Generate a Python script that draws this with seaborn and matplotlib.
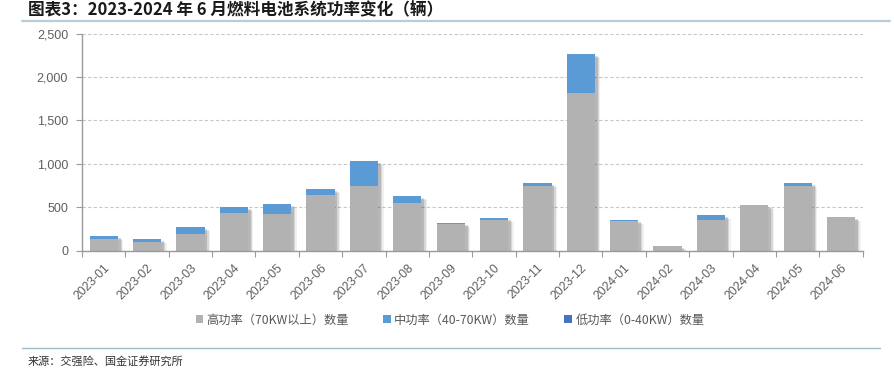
import numpy as np
import pandas as pd
import matplotlib
matplotlib.use("Agg")
import matplotlib.pyplot as plt
import matplotlib.patheffects as pe
from matplotlib.patches import Patch
from matplotlib.lines import Line2D
import seaborn as sns

months = ["2023-01", "2023-02", "2023-03", "2023-04", "2023-05", "2023-06",
          "2023-07", "2023-08", "2023-09", "2023-10", "2023-11", "2023-12",
          "2024-01", "2024-02", "2024-03", "2024-04", "2024-05", "2024-06"]
high = [135, 104, 193, 430, 426, 645, 745, 553, 307, 357, 745, 1813,
        346, 50, 354, 526, 750, 385]
mid = [31, 31, 84, 73, 115, 62, 288, 81, 12, 16, 38, 453,
       8, 0, 57, 0, 30, 0]
low = [0] * 18
yticks = [0, 500, 1000, 1500, 2000, 2500]
series_labels = ["高功率（70KW以上）数量", "中功率（40-70KW）数量", "低功率（0-40KW）数量"]
colors = ["#B2B2B2", "#5B9BD5", "#4472C4"]
title = "图表3：2023-2024 年 6 月燃料电池系统功率变化（辆）"
source = "来源：交强险、国金证券研究所"

sns.set_theme(style="white")
plt.rcParams['font.family'] = ['Liberation Sans', 'Noto Sans CJK SC', 'DejaVu Sans']

df = pd.DataFrame({"month": months, "high": high, "mid": mid, "low": low})
df["mid_top"] = df["high"] + df["mid"]
df["low_top"] = df["mid_top"] + df["low"]

fig = plt.figure(figsize=(8.94, 3.72), dpi=100)
ax = fig.add_axes([82 / 894, 1 - 250.7 / 372, (862.7 - 82) / 894, (250.7 - 33.7) / 372])

bar_kw = dict(width=0.65, saturation=1, errorbar=None, ax=ax, zorder=3,
              linewidth=0, edgecolor="none")
# back layer (total) with soft shadow
sns.barplot(data=df, x="month", y="low_top", color=colors[2], **bar_kw)
for p in ax.patches:
    p.set_path_effects([
        pe.SimplePatchShadow(offset=(4, -3), shadow_rgbFace="#000000", alpha=0.06),
        pe.SimplePatchShadow(offset=(3, -2.2), shadow_rgbFace="#000000", alpha=0.10),
        pe.SimplePatchShadow(offset=(2, -1.5), shadow_rgbFace="#000000", alpha=0.14),
        pe.Normal()])
sns.barplot(data=df, x="month", y="mid_top", color=colors[1], **bar_kw)
sns.barplot(data=df, x="month", y="high", color=colors[0], **bar_kw)

ax.set_xlim(-0.5, len(months) - 0.5)
ax.set_ylim(0, 2500)
ax.set_yticks(yticks)
ax.set_yticklabels([f"{v:,}" for v in yticks])
ax.set_xlabel("")
ax.set_ylabel("")

ax.set_xticks(np.arange(len(months)))
ax.set_xticklabels(months, rotation=45, ha="right", rotation_mode="anchor")
ax.set_xticks(np.arange(-0.5, len(months), 1), minor=True)
ax.tick_params(axis="x", which="major", length=0, pad=8, labelsize=8.8, labelcolor="#5f5f5f")
ax.tick_params(axis="x", which="minor", length=4, width=0.8, color="#9a9a9a", direction="out", bottom=True)
ax.tick_params(axis="y", which="major", length=4, width=0.8, color="#9a9a9a", direction="out",
               left=True, labelsize=9, labelcolor="#5f5f5f", pad=6)

ax.yaxis.grid(True, linestyle=(0, (3, 2)), color="#c8c8c8", linewidth=0.8, zorder=0)
ax.xaxis.grid(False)
ax.set_axisbelow(True)
for s in ["top", "right"]:
    ax.spines[s].set_visible(False)
for s in ["left", "bottom"]:
    ax.spines[s].set_color("#9a9a9a")
    ax.spines[s].set_linewidth(1.0)
    ax.spines[s].set_zorder(4)

handles = [Patch(facecolor=c, edgecolor="none") for c in colors]
fig.legend(handles, series_labels, loc="center", bbox_to_anchor=(450 / 894, 1 - 320 / 372),
           ncol=3, frameon=False, labelcolor="#595959",
           handlelength=0.6, handleheight=0.6, handletextpad=0.3, columnspacing=2.8,
           prop={"family": ["Noto Sans CJK SC", "Liberation Sans"], "size": 8.8})

fig.text(28 / 894, 1 - 10 / 372, title, ha="left", va="center", fontsize=12, fontweight="bold",
         fontstyle="italic", color="#1a1a1a", family=["Noto Sans CJK SC", "DejaVu Sans"])
fig.add_artist(Line2D([22 / 894, 890 / 894], [1 - 21 / 372, 1 - 21 / 372], color="#b9cdd8", lw=1.6,
                      transform=fig.transFigure))
fig.add_artist(Line2D([22 / 894, 880 / 894], [1 - 348 / 372, 1 - 348 / 372], color="#9fbccb", lw=1.0,
                      transform=fig.transFigure))
fig.text(28 / 894, 1 - 361 / 372, source, ha="left", va="center", fontsize=8, color="#333333",
         family=["Noto Sans CJK SC", "DejaVu Sans"])

fig.savefig("out.png", dpi=100)
